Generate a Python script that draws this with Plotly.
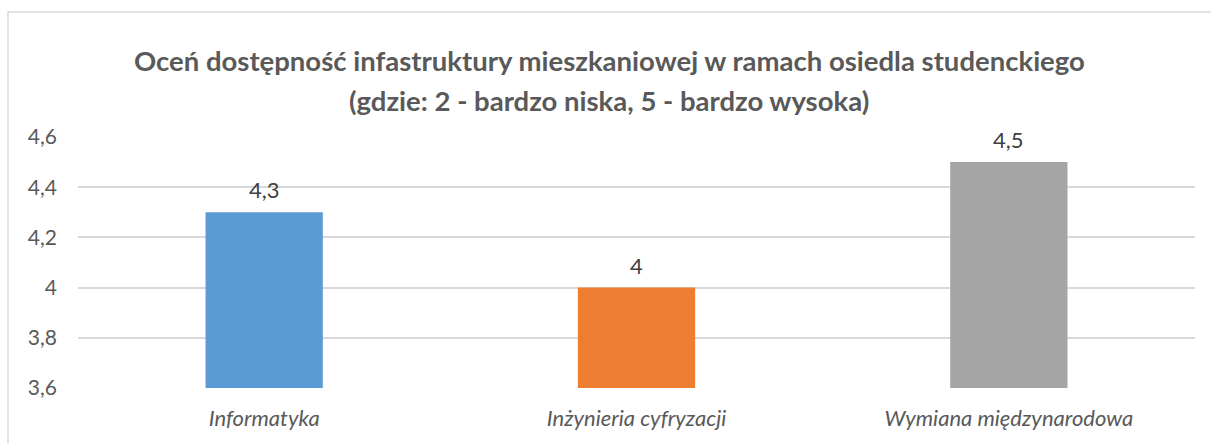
import plotly.graph_objects as go

categories = ["Informatyka", "Inżynieria cyfryzacji", "Wymiana międzynarodowa"]
values = [4.3, 4.0, 4.5]
colors = ["#5B9BD5", "#ED7D31", "#A5A5A5"]
y_ticks = [3.6, 3.8, 4.0, 4.2, 4.4, 4.6]
title_lines = ["Oceń dostępność infastruktury mieszkaniowej w ramach osiedla studenckiego",
               "(gdzie: 2 - bardzo niska, 5 - bardzo wysoka)"]

def fmt(v):
    return ("%g" % v).replace(".", ",")

FONT = "Lato"
GREY = "#595959"

L, R, T, B = 78, 16, 137, 53
W, H = 1211, 443
PH = H - T - B
PW = W - L - R

def py(pix):
    return (H - B - pix) / PH

def px(pix):
    return (pix - L) / PW

fig = go.Figure()
fig.add_trace(go.Bar(
    x=categories, y=values, marker=dict(color=colors, line=dict(width=0)),
    width=0.315, hoverinfo="skip", showlegend=False,
))

annotations = []
for c, v in zip(categories, values):
    annotations.append(dict(x=c, y=v, xref="x", yref="y", text=fmt(v), showarrow=False,
                            yanchor="bottom", yshift=7,
                            font=dict(family=FONT, size=22, color="#404040")))
for line, ypix in zip(title_lines, [60, 100]):
    annotations.append(dict(x=px(609), y=py(ypix), xref="paper", yref="paper", text="<b>%s</b>" % line,
                            showarrow=False, xanchor="center", yanchor="middle",
                            font=dict(family=FONT, size=27.5, color=GREY)))

fig.update_layout(
    width=W, height=H,
    margin=dict(l=L, r=R, t=T, b=B),
    paper_bgcolor="white", plot_bgcolor="white",
    separators=", ",
    font=dict(family=FONT, color=GREY),
    annotations=annotations,
    shapes=[dict(type="rect", xref="paper", yref="paper", x0=px(8), x1=px(1230), y0=py(460), y1=py(11),
                 line=dict(color="#D9D9D9", width=1.5), fillcolor="rgba(0,0,0,0)", layer="below")],
)
fig.update_yaxes(range=[3.6, 4.6], tickvals=y_ticks, ticktext=[fmt(t) for t in y_ticks],
                 showgrid=True, gridcolor="#D9D9D9", gridwidth=1.5, zeroline=False,
                 showline=False, ticks="", ticklabelstandoff=20,
                 tickfont=dict(family=FONT, size=21, color=GREY))
fig.update_xaxes(showgrid=False, showline=False, ticks="", ticklabelstandoff=15,
                 tickvals=categories, ticktext=["<i>%s</i>" % c for c in categories],
                 tickfont=dict(family=FONT, size=22, color=GREY))

fig.write_html("out.html", config={"displayModeBar": False},
               post_script="document.body.style.margin='0';document.body.style.overflow='hidden';")
